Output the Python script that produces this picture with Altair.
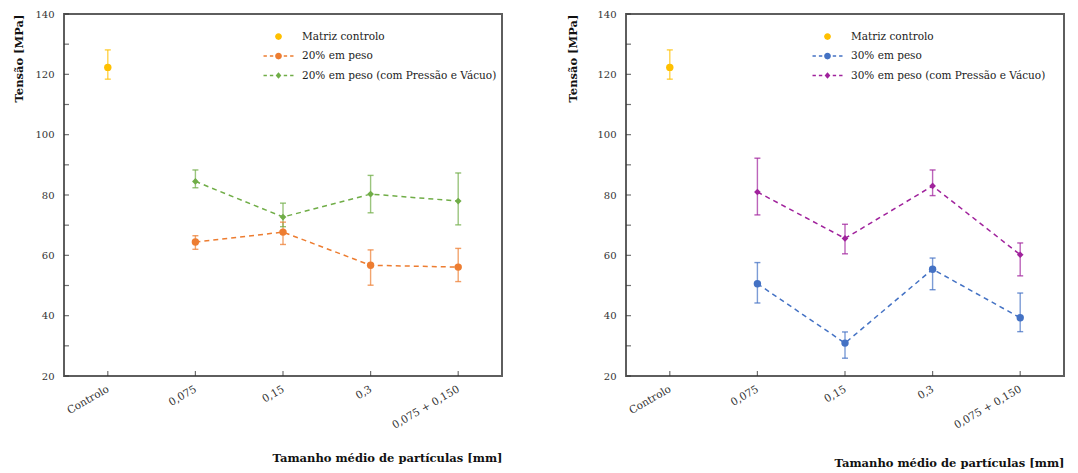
import altair as alt
import pandas as pd

# ---- data ----
categories = ["Controlo", "0,075", "0,15", "0,3", "0,075 + 0,150"]
size_cats = ["0,075", "0,15", "0,3", "0,075 + 0,150"]
y_ticks = [20, 30, 40, 50, 60, 70, 80, 90, 100, 110, 120, 130, 140]

control_mean = [122.3]
control_hi = [128.1]
control_lo = [118.4]

p20_mean = [64.4, 67.7, 56.7, 56.1]
p20_hi = [66.5, 71.0, 61.8, 62.3]
p20_lo = [62.0, 63.6, 50.1, 51.3]

p20v_mean = [84.5, 72.7, 80.3, 78.0]
p20v_hi = [88.3, 77.3, 86.5, 87.3]
p20v_lo = [82.4, 69.5, 74.1, 70.1]

p30_mean = [50.6, 30.9, 55.4, 39.3]
p30_hi = [57.6, 34.6, 59.1, 47.5]
p30_lo = [44.2, 25.9, 48.6, 34.7]

p30v_mean = [81.0, 65.6, 83.0, 60.2]
p30v_hi = [92.2, 70.3, 88.3, 64.1]
p30v_lo = [73.4, 60.5, 79.8, 53.2]

S_CTRL = "Matriz controlo"
S20 = "20% em peso"
S20V = "20% em peso (com Pressão e Vácuo)"
S30 = "30% em peso"
S30V = "30% em peso (com Pressão e Vácuo)"

C_CTRL = "#FFC000"
C_OR = "#ED7D31"
C_GR = "#70AD47"
C_BL = "#4472C4"
C_PU = "#A0229C"
LIGHT = {C_CTRL: "#FFD966", C_OR: "#F5B28C", C_GR: "#ADD394", C_BL: "#95AFDF", C_PU: "#CF82CE"}

FONT = "DejaVu Serif"
W, H = 438, 362

# legend symbol paths (dashes + marker)
DASHES = ("M-2,-0.09 H-1.55 V0.09 H-2 Z M-1.15,-0.09 H-0.7 V0.09 H-1.15 Z "
          "M0.7,-0.09 H1.15 V0.09 H0.7 Z M1.55,-0.09 H2 V0.09 H1.55 Z ")
CIRCLE = "M0.45,0 A0.45,0.45 0 1,1 -0.45,0 A0.45,0.45 0 1,1 0.45,0 Z"
DIAMOND = "M0,-0.42 L0.38,0 L0,0.42 L-0.38,0 Z"


def frame(series):
    rows = []
    for name, cats, m, hi, lo, shape, col in series:
        for c, a, b, d in zip(cats, m, hi, lo):
            rows.append({"cat": c, "serie": name, "mean": a, "hi": b, "lo": d,
                         "shape": shape})
    return pd.DataFrame(rows)


def panel(series, legend_x, title_pad, xtitle_pad):
    df = frame(series)
    names = [s[0] for s in series]
    colors = [s[6] for s in series]
    light = [LIGHT[c] for c in colors]
    sym = [CIRCLE if s[0] == S_CTRL else
           (DASHES + (CIRCLE if s[5] == "circle" else DIAMOND)) for s in series]

    xscale = alt.Scale(domain=categories, type="point", padding=0.5)
    yscale = alt.Scale(domain=[20, 140], nice=False, zero=False)
    xenc = alt.X("cat:N", scale=xscale,
                 axis=alt.Axis(title="Tamanho médio de partículas [mm]", labelAngle=-30,
                               labelFontSize=10.5, titleFontSize=11.5, titleFontWeight="bold",
                               titleAnchor="end", titlePadding=xtitle_pad, labelPadding=12,
                               domain=False, ticks=False))
    yenc = alt.Y("mean:Q", scale=yscale,
                 axis=alt.Axis(title="Tensão [MPa]", values=y_ticks[::2],
                               labelFontSize=10, titleFontSize=11.5, titleFontWeight="bold",
                               titleAnchor="end", titlePadding=title_pad, labelPadding=10,
                               grid=False, domain=False, ticks=False))
    col_light = alt.Color("serie:N", scale=alt.Scale(domain=names, range=light), legend=None)
    col = alt.Color("serie:N", scale=alt.Scale(domain=names, range=colors), legend=None)

    base = alt.Chart(df)
    lines = base.transform_filter(alt.datum.serie != S_CTRL).mark_line(
        strokeDash=[5, 4], strokeWidth=1.5).encode(
        x=xenc, y=yenc, color=col_light, detail="serie:N")
    rules = base.mark_rule(strokeWidth=1.4, opacity=0.7).encode(
        x="cat:N", y="lo:Q", y2="hi:Q", color=col)
    caps_hi = base.mark_tick(size=6, thickness=1.4, opacity=0.75, orient="horizontal").encode(
        x="cat:N", y="hi:Q", color=col)
    caps_lo = base.mark_tick(size=6, thickness=1.4, opacity=0.75, orient="horizontal").encode(
        x="cat:N", y="lo:Q", color=col)
    circles = base.transform_filter(alt.datum.shape == "circle").mark_point(
        shape="circle", filled=True, size=55, opacity=1).encode(
        x="cat:N", y="mean:Q", color=col)
    diamonds = base.transform_filter(alt.datum.shape == "diamond").mark_point(
        shape="diamond", filled=True, size=45, opacity=1).encode(
        x="cat:N", y="mean:Q", color=col)
    legend_layer = base.mark_point(filled=True, size=225, opacity=0).encode(
        x="cat:N", y="mean:Q",
        color=alt.Color("serie:N", scale=alt.Scale(domain=names, range=colors),
                        legend=alt.Legend(title=None, orient="none", legendX=legend_x,
                                          legendY=15, labelFont=FONT, labelFontSize=10.5,
                                          labelColor="#222", symbolOpacity=1,
                                          symbolStrokeWidth=0, labelOffset=16,
                                          labelLimit=400,
                                          rowPadding=6.5, padding=0, symbolSize=225)),
        shape=alt.Shape("serie:N", scale=alt.Scale(domain=names, range=sym), legend=None),
    )
    # inward axis ticks
    yt = alt.Chart(pd.DataFrame({"v": y_ticks})).mark_tick(
        orient="horizontal", size=5, thickness=1.2, color="#333").encode(
        y=alt.Y("v:Q", scale=yscale), x=alt.value(2.5))
    xt = alt.Chart(pd.DataFrame({"c": categories})).mark_tick(
        orient="vertical", size=5, thickness=1.2, color="#333").encode(
        x=alt.X("c:N", scale=xscale), y=alt.value(H - 2.5))
    return alt.layer(legend_layer, lines, rules, caps_hi, caps_lo, circles, diamonds,
                     yt, xt).properties(width=W, height=H)


left = panel([
    (S_CTRL, ["Controlo"], control_mean, control_hi, control_lo, "circle", C_CTRL),
    (S20, size_cats, p20_mean, p20_hi, p20_lo, "circle", C_OR),
    (S20V, size_cats, p20v_mean, p20v_hi, p20v_lo, "diamond", C_GR),
], legend_x=207, title_pad=10, xtitle_pad=22)

right = panel([
    (S_CTRL, ["Controlo"], control_mean, control_hi, control_lo, "circle", C_CTRL),
    (S30, size_cats, p30_mean, p30_hi, p30_lo, "circle", C_BL),
    (S30V, size_cats, p30v_mean, p30v_hi, p30v_lo, "diamond", C_PU),
], legend_x=194, title_pad=18, xtitle_pad=27)

chart = alt.hconcat(left, right, spacing=63).resolve_scale(
    color="independent", shape="independent").resolve_legend(
    color="independent", shape="independent").properties(
    padding={"left": 4, "top": 0, "right": 5, "bottom": 5}).configure(
    font=FONT, background="white").configure_view(
    stroke="#5e5e5e", strokeWidth=2).configure_axis(
    labelFont=FONT, titleFont=FONT, labelColor="#333", titleColor="#111")

chart.save("out.html", embed_options={"renderer": "svg", "actions": False})
